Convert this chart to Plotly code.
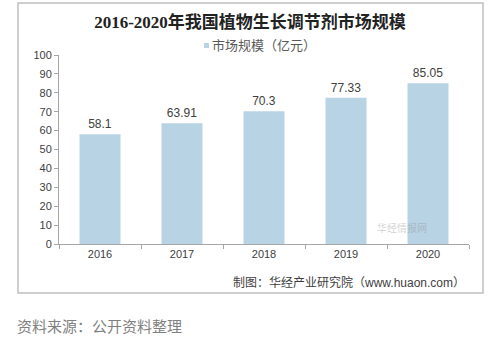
import plotly.graph_objects as go

years = ["2016", "2017", "2018", "2019", "2020"]
values = [58.1, 63.91, 70.3, 77.33, 85.05]
labels = ["58.1", "63.91", "70.3", "77.33", "85.05"]
y_ticks = [0, 10, 20, 30, 40, 50, 60, 70, 80, 90, 100]
series_name = "市场规模（亿元）"

L, R, T, B = 59, 469, 55, 244
W, H = 500, 344
BAR_COLOR = "#b8d3e4"

def px(x):
    return (x - L) / (R - L)
def py(y):
    return (B - y) / (B - T)

fig = go.Figure()
fig.add_trace(go.Bar(
    x=years, y=values, name=series_name,
    marker=dict(color=BAR_COLOR, line=dict(width=0)),
    width=0.5,
    text=labels, textposition="outside",
    textfont=dict(family="Liberation Sans, Arial", size=12, color="#404040"),
    cliponaxis=False, showlegend=False,
))

fig.update_layout(
    width=W, height=H,
    margin=dict(l=L, r=W - R, t=T, b=H - B),
    paper_bgcolor="white", plot_bgcolor="white",
    showlegend=False,
    title=dict(text="<b>2016-2020年我国植物生长调节剂市场规模</b>",
               x=0.5, xanchor="center", y=1 - 22 / H, yanchor="middle",
               font=dict(family="Liberation Serif, Noto Sans CJK SC", size=17, color="#222222")),
    xaxis=dict(type="category", showline=True, linecolor="#a6a6a6", linewidth=1,
               ticks="outside", tickson="boundaries", ticklen=4, tickcolor="#a6a6a6",
               tickfont=dict(family="Liberation Sans, Arial", size=11, color="#404040"),
               showgrid=False),
    yaxis=dict(range=[0, 100], tickvals=y_ticks, showline=True, linecolor="#a6a6a6",
               linewidth=1, ticks="outside", ticklen=4, tickcolor="#a6a6a6",
               tickfont=dict(family="Liberation Sans, Arial", size=11, color="#404040"),
               showgrid=False, zeroline=False),
    shapes=[
        dict(type="rect", xref="paper", yref="paper",
             x0=px(18), x1=px(483), y0=py(293), y1=py(3),
             line=dict(color="#c0c0c0", width=1.5), fillcolor="rgba(0,0,0,0)", layer="below"),
        dict(type="rect", xref="paper", yref="paper",
             x0=px(204), x1=px(209), y0=py(48), y1=py(43),
             line=dict(width=0), fillcolor=BAR_COLOR),
    ],
    annotations=[
        dict(text=series_name, xref="paper", yref="paper", x=px(210), y=py(45.5),
             xanchor="left", yanchor="middle", showarrow=False,
             font=dict(family="Liberation Sans, Noto Sans CJK SC", size=13, color="#595959")),
        dict(text="华经情报网", xref="paper", yref="paper", x=px(428), y=py(236),
             showarrow=False, borderpad=0,
             font=dict(family="Noto Sans CJK SC", size=10, color="rgba(140,140,140,0.4)")),
        dict(text="制图：华经产业研究院（www.huaon.com）", xref="paper", yref="paper",
             x=px(467), y=py(282), xanchor="right", yanchor="middle", showarrow=False,
             font=dict(family="Liberation Sans, Noto Sans CJK SC", size=12, color="#404040")),
        dict(text="资料来源：公开资料整理", xref="paper", yref="paper",
             x=px(15), y=py(325), xanchor="left", yanchor="middle", showarrow=False,
             font=dict(family="Noto Sans CJK SC", size=15, color="#808080")),
    ],
)

fig.write_html("out.html")
